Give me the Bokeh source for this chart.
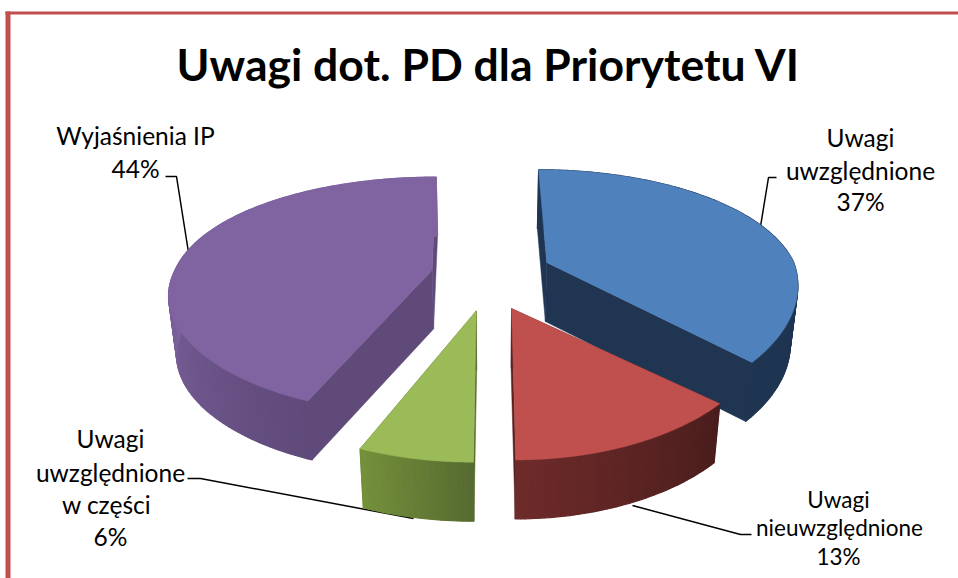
import numpy as np
from bokeh.plotting import figure
from bokeh.models import Range1d
from bokeh.core.properties import value
from bokeh.embed import file_html
from bokeh.resources import INLINE

# ---- data ----
categories = ["Uwagi uwzględnione", "Uwagi nieuwzględnione", "Uwagi uwzględnione w części", "Wyjaśnienia IP"]
shares = [37, 13, 6, 44]
title_text = "Uwagi dot. PD dla Priorytetu VI"

# ---- styles ----
top_colors = ["#4F81BD", "#C0504D", "#9BBB59", "#8064A2"]
side_start = ["#1F3552", "#4A1E1D", "#566B30", "#5F4A7A"]
side_end = ["#1F3552", "#6E2B2A", "#76923C", "#7F65A0"]
wall_span = [1, 1, 1, 0.45]
cut_colors = ["#1F3552", "#5A2120", "#566B30", "#5F4A7A"]
FRAME = "#C0504D"
FONT = "Lato"

# ---- projection of the pie (page pixels) ----
CX, CY, EX, EY, DEPTH, TAPER = 490, 276, 60, 35, 59, 0.975
A_RIGHT, A_LEFT, B, KX, KY = 247, 257, 118, 0.18, 0.22
far_shear = [0.145, 0, 0, 0.07]
near_shear = [0, 0.2, 0.2, 0.2]
far_scale = [0.96, 1, 1, 0.96]
near_scale = [1.05, 1, 1, 0.95]


def hex2rgb(h):
    return np.array([int(h[i:i + 2], 16) for i in (1, 3, 5)], float)


def mix(c0, c1, t):
    r = hex2rgb(c0) * (1 - t) + hex2rgb(c1) * t
    return "#%02X%02X%02X" % tuple(int(round(v)) for v in r)


def bottom(x, y):
    return CX + (x - CX) * TAPER, y + DEPTH


p = figure(width=958, height=578, output_backend="svg", toolbar_location=None,
           x_range=Range1d(0, 958), y_range=Range1d(578, 0), min_border=0,
           background_fill_color="white", border_fill_color="white", outline_line_color=None)
p.axis.visible = False
p.grid.visible = False

# frame
p.quad(left=[5], right=[10], top=[11], bottom=[578], fill_color=FRAME, line_color=None)
p.quad(left=[5], right=[958], top=[11], bottom=[14], fill_color=FRAME, line_color=None)

# slice angles, clockwise from 12 o'clock
total = sum(shares)
edges = np.concatenate([[0], np.cumsum(shares)]) / total * 2 * np.pi


def draw_slice(i):
    t0, t1 = edges[i], edges[i + 1]
    mid = (t0 + t1) / 2
    ax = CX + EX * np.sin(mid) + 3 * np.cos(mid)
    ay = CY - EY * np.cos(mid)
    th = np.linspace(t0, t1, max(8, int((t1 - t0) * 60)))
    X, Y = np.sin(th), np.cos(th)
    a = np.where(X < 0, A_LEFT, A_RIGHT)
    shear = np.where(Y > 0, far_shear[i], near_shear[i])
    b = B * np.where(Y > 0, far_scale[i], near_scale[i])
    rx = ax + a * X / (1 + KX * Y) - (ax - CX) * shear * Y
    ry = ay - b * Y / (1 + KY * Y)
    bx, by = bottom(rx, ry)
    abx, aby = bottom(ax, ay)
    # cut faces
    for k in (0, -1):
        p.patch([ax, rx[k], bx[k], abx], [ay, ry[k], by[k], aby],
                fill_color=cut_colors[i], line_color=cut_colors[i], line_width=0.5)
    # outer wall, strip by strip
    for j in range(len(th) - 1):
        t = min(1.0, (th[j] - t0) / (t1 - t0) / wall_span[i])
        c = mix(side_start[i], side_end[i], t)
        p.patch([rx[j], rx[j + 1], bx[j + 1], bx[j]], [ry[j], ry[j + 1], by[j + 1], by[j]],
                fill_color=c, line_color=c, line_width=1.2)
    # top
    p.patch(list(rx) + [ax], list(ry) + [ay], fill_color=top_colors[i], line_color=top_colors[i], line_width=0.5)


# leader lines
leaders = [
    ([165, 176, 188], [176, 176, 252]),
    ([776, 768, 760], [177, 177, 226]),
    ([751, 740, 632], [534, 534, 505]),
    ([187, 200, 413], [478, 478, 518]),
]
for xs, ys in leaders:
    p.line(xs, ys, line_color="black", line_width=1.5)

for i in (3, 0, 1, 2):
    draw_slice(i)

# texts
p.text([488], [63], text=[title_text], text_font=value(FONT), text_font_style="bold",
       text_font_size="44.5px", text_align="center", text_baseline="middle", text_color="black")

labels = [
    (135, 135, "Wyjaśnienia IP", 24.5), (135, 168, "44%", 24.5),
    (860, 137, "Uwagi", 24.5), (860, 170, "uwzględnione", 24.5), (860, 201, "37%", 24.5),
    (838, 499, "Uwagi", 22.5), (839, 527, "nieuwzględnione", 22.5), (838, 556, "13%", 22.5),
    (110, 438, "Uwagi", 24.5), (110, 472, "uwzględnione", 24.5), (106, 504, "w części", 24.5), (110, 536, "6%", 24.5),
]
for x, y, s, size in labels:
    p.text([x], [y], text=[s], text_font=value(FONT), text_font_size=f"{size}px",
           text_align="center", text_baseline="middle", text_color="black")

open("out.html", "w").write(file_html(p, INLINE))
